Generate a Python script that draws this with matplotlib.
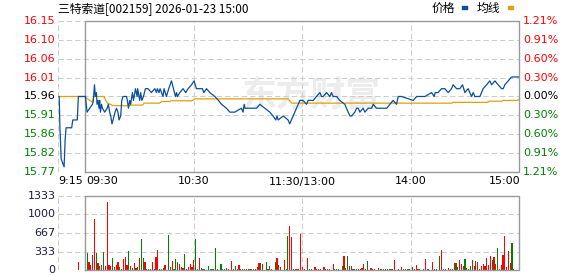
import matplotlib
matplotlib.use('Agg')
import matplotlib.pyplot as plt
from matplotlib.patches import Rectangle

plt.rcParams['font.family'] = ['DejaVu Sans', 'Noto Sans CJK SC']

W, H = 578, 276

title = '三特索道[002159] 2026-01-23 15:00'
prev_close = 15.96
pct_max = 1.21

price_labels = ['16.15', '16.10', '16.06', '16.01', '15.96', '15.91', '15.86', '15.82', '15.77']
pct_labels = ['1.21%', '0.91%', '0.60%', '0.30%', '0.00%', '0.30%', '0.60%', '0.91%', '1.21%']
vol_ticks = [1333, 1000, 667, 333, 0]
time_labels = ['9:15', '09:30', '10:30', '11:30/13:00', '14:00', '15:00']
time_pos = [0, 15, 75, 135, 195, 255]   # minutes from 9:15 (pre-market 15 min)

# call auction, minutes from 9:15
pre_t = [0.5, 0.9, 1.6, 2.4, 3.2, 3.8, 4.3, 7.4, 8.0, 10.5, 10.8, 11.1, 15]
pre_p = [15.96, 15.88, 15.80, 15.79, 15.78, 15.85, 15.88, 15.88, 15.90, 15.90, 15.93, 15.96, 15.96]

# trading, minutes from 9:30
trade_t = [0, 0.9, 2.4, 3.9, 4.4, 5.0, 5.5, 6.1, 6.4, 7.0, 7.5, 7.9, 8.3, 8.9, 9.4, 10.7,
           12.0, 12.7, 13.4, 14.0, 14.7, 15.3, 16.4, 17.2, 18.0, 18.6, 19.5, 20.1, 20.8,
           22.7, 23.2, 23.8, 24.5, 25.0, 26.0, 26.6, 27.7, 28.6, 28.9, 30.0, 30.6, 31.2,
           32.1, 33.2, 34.6, 36.5, 38.4, 39.3, 39.8, 40.7, 41.3, 42.9, 43.5, 44.8, 46.1,
           47.6, 48.7, 49.8, 50.4, 50.9, 52.2, 54.0, 55.5, 56.8, 58.7, 60.1, 61.4, 63.3,
           64.7, 65.5, 67.0, 68.8, 71.6, 73.6, 75.3, 78.0, 79.9, 82.6, 86.3, 87.2, 87.8,
           88.3, 90.9, 94.6, 96.5, 99.2, 102.0, 103.8, 105.3, 106.0, 106.6, 109.4, 112.1,
           113.0, 114.9, 115.8, 116.8, 117.7, 118.6, 120.4, 122.3, 123.2, 126.0, 127.8,
           129.7, 130.6, 131.5, 133.4, 135.2, 136.1, 137.0, 138.9, 140.7, 143.5, 144.4,
           146.3, 147.2, 149.0, 150.0, 150.9, 151.8, 153.6, 154.6, 156.4, 158.3, 159.2,
           161.0, 162.9, 166.7, 168.4, 170.2, 172.1, 173.0, 174.9, 181.3, 183.2, 186.0,
           187.8, 191.5, 192.9, 193.5, 195.1, 197.0, 198.8, 200.7, 202.5, 203.4, 205.3,
           207.1, 208.6, 209.9, 211.7, 213.6, 214.5, 215.4, 218.2, 219.1, 220.0, 221.9,
           223.7, 224.7, 226.5, 228.3, 230.2, 231.1, 232.0, 233.9, 235.7, 240]
trade_p = [15.96, 15.92, 15.93, 15.94, 15.95, 15.99, 15.96, 15.97, 15.94, 15.95, 15.93, 15.95,
           15.92, 15.94, 15.93, 15.92, 15.93, 15.94, 15.92, 15.91, 15.89, 15.90, 15.92, 15.93,
           15.92, 15.90, 15.91, 15.95, 15.96, 15.96, 15.95, 15.93, 15.95, 15.94, 15.97, 15.95,
           15.98, 15.96, 15.98, 15.95, 15.97, 15.95, 15.96, 15.98, 15.98, 15.97, 15.98, 15.97,
           15.98, 15.97, 15.98, 15.96, 15.98, 15.96, 15.98, 16.00, 15.98, 15.96, 15.97, 15.96,
           15.97, 15.98, 15.97, 15.98, 15.99, 16.00, 15.98, 15.98, 15.98, 15.97, 15.98, 15.97,
           15.96, 15.95, 15.94, 15.93, 15.92, 15.92, 15.93, 15.92, 15.94, 15.93, 15.93, 15.93,
           15.94, 15.93, 15.92, 15.91, 15.90, 15.91, 15.90, 15.91, 15.90, 15.89, 15.91, 15.92,
           15.93, 15.94, 15.95, 15.95, 15.94, 15.95, 15.95, 15.96, 15.97, 15.96, 15.96, 15.97,
           15.96, 15.97, 15.96, 15.96, 15.95, 15.94, 15.93, 15.91, 15.91, 15.92, 15.93, 15.93,
           15.92, 15.93, 15.92, 15.93, 15.93, 15.94, 15.93, 15.93, 15.93, 15.94, 15.95, 15.94,
           15.96, 15.96, 15.95, 15.96, 15.96, 15.96, 15.97, 15.96, 15.97, 15.97, 15.98, 15.98,
           15.97, 15.98, 15.99, 15.98, 15.98, 15.99, 15.97, 15.98, 15.96, 15.97, 15.96, 15.96,
           15.97, 15.98, 15.99, 16.00, 15.99, 16.00, 15.99, 15.98, 15.98, 15.99, 16.00, 16.01,
           16.01]

# average price line
avg_pre_t = [0, 15]
avg_pre_p = [15.96, 15.96]
avg_t = [0, 1.8, 4.0, 4.4, 10.3, 11.2, 12.3, 15.1, 24.0, 25.1, 31.7, 32.3, 41.1, 42.2, 46.7,
         47.2, 58.8, 60.5, 112.0, 114.2, 202.7, 203.3, 222.6, 223.2, 230.4, 231.0, 238.7, 240]
avg_p = [15.958, 15.952, 15.945, 15.960, 15.960, 15.950, 15.943, 15.937, 15.936, 15.938,
         15.938, 15.943, 15.943, 15.947, 15.947, 15.949, 15.949, 15.954, 15.954, 15.943,
         15.943, 15.945, 15.945, 15.948, 15.948, 15.950, 15.950, 15.953]

# volume (lots); auction bar at 9:26, then minutes from 9:30; 'r' up, 'g' down
pre_vol_t = [11]
pre_vol = [150]
vol_t = [1, 2, 3, 4, 5, 6, 7, 8, 9, 10, 11, 12, 13, 14, 15, 16, 17, 18, 19, 20, 21, 22, 23,
         24, 25, 26, 27, 28, 29, 30, 31, 32, 33, 34, 35, 36, 37, 38, 39, 40, 41, 42, 43, 44,
         46, 47, 48, 49, 50, 51, 52, 53, 54, 55, 56, 57, 58, 59, 60, 61, 62, 63, 64, 65, 66,
         68, 69, 70, 71, 72, 73, 75, 76, 77, 78, 79, 81, 82, 83, 84, 85, 86, 87, 88, 89, 90,
         91, 92, 93, 94, 95, 96, 97, 98, 100, 101, 102, 103, 105, 106, 107, 108, 110, 111, 112,
         113, 114, 115, 116, 117, 118, 119, 120, 121, 123, 124, 125, 127, 128, 129, 130, 132,
         133, 134, 135, 137, 138, 139, 140, 142, 143, 144, 145, 146, 147, 148, 149, 150, 151,
         152, 153, 154, 155, 156, 158, 159, 160, 162, 163, 164, 165, 166, 167, 168, 169, 170,
         171, 173, 175, 176, 177, 178, 179, 181, 182, 183, 184, 185, 187, 188, 189, 190, 192,
         193, 194, 196, 197, 198, 199, 201, 202, 203, 204, 205, 206, 207, 208, 209, 210, 211,
         212, 213, 214, 215, 216, 217, 218, 219, 220, 221, 222, 223, 224, 225, 226, 227, 228,
         229, 230, 231, 232, 233, 234, 235, 236, 237, 240]
vol = [312, 150, 90, 270, 918, 312, 120, 72, 90, 324, 72, 1218, 90, 72, 210, 60, 90, 150, 48,
       24, 198, 228, 90, 342, 72, 36, 132, 36, 60, 210, 558, 210, 150, 18, 18, 18, 150, 18,
       228, 360, 18, 18, 30, 90, 630, 48, 168, 18, 198, 150, 108, 60, 36, 288, 18, 48, 108, 60,
       180, 558, 18, 216, 36, 18, 18, 72, 18, 18, 18, 390, 18, 108, 18, 18, 36, 18, 168, 18,
       72, 18, 84, 18, 18, 18, 18, 18, 18, 18, 18, 18, 48, 120, 120, 108, 150, 18, 72, 24, 150,
       210, 90, 48, 180, 24, 612,
       792, 594, 18, 18, 18, 18, 648, 54, 18, 216, 18, 18, 54, 18, 18, 18, 54, 18, 18, 18, 108,
       18, 18, 18, 72, 252, 36, 252, 72, 72, 18, 18, 18, 18, 18, 36, 108, 18, 162, 36, 18, 18,
       36, 18, 18, 18, 18, 18, 18, 18, 18, 180, 18, 54, 18, 18, 18, 18, 54, 18, 90, 18, 18, 18,
       198, 18, 18, 144, 18, 18, 252, 360, 18, 18, 36, 18, 18, 126, 126, 54, 180, 108, 72, 198,
       36, 18, 72, 180, 72, 162, 144, 18, 72, 108, 72, 216, 90, 252, 180, 234, 108, 396, 18, 90,
       270, 612, 54, 342, 126, 486, 18, 702]
vol_c = ''.join([
    'grrrrgrgrg', 'rrrrgrrrgg', 'rrrgrgrgrr', 'ggrggrrgrr', 'gggr',
    'grrgggrrrg', 'rrrrrggrggg', 'gggggr', 'gggrg', 'rrgrrggrgrgrrgrrgr',
    'grgr', 'grrg', 'rgg',
    'rrrrrrrrg', 'rgg', 'rrrg', 'rrgr', 'rggg', 'grrggrgrgrgrrrg', 'rrg',
    'rgrgrgrgrr', 'r', 'rgggg', 'rgrrr', 'grrr', 'rrr', 'grrg',
    'rrrrggrrrg', 'rggrrgrrrr', 'rrrrgrrggr', 'rrrrrgg', 'r'])
assert len(vol_t) == len(vol) == len(vol_c)

RED, GREEN, BLACK = '#ff0000', '#008000', '#000000'
BLUE, ORANGE = '#0a4f9e', '#e0a10a'
GRID, BOX = '#cccccc', '#999999'

fig = plt.figure(figsize=(W / 100, H / 100), dpi=100)
x0, x1 = 58.3, 519.3
ax = fig.add_axes([x0 / W, 1 - 172 / H, (x1 - x0) / W, (172 - 21) / H])
axv = fig.add_axes([x0 / W, 1 - 270 / H, (x1 - x0) / W, (270 - 196) / H])

span = prev_close * pct_max / 100
price_pos = [prev_close + span * (4 - k) / 4 for k in range(9)]

for a in (ax, axv):
    a.set_xlim(0, 255)
    a.axis('off')
ax.set_ylim(prev_close - span, prev_close + span)
axv.set_ylim(0, 1333)

gkw = dict(color=GRID, lw=0.75, dashes=(5, 3), zorder=1)
for yv in price_pos:
    ax.axhline(yv, **gkw)
for yv in vol_ticks:
    axv.axhline(yv, **gkw)
for a in (ax, axv):
    for xv in [0, 75, 135, 195]:
        a.axvline(xv, **gkw)
    lo, hi = a.get_ylim()
    a.plot([15, 255, 255, 15, 15], [lo, lo, hi, hi, lo], color=BOX, lw=1.0, zorder=4,
           clip_on=False)

# watermark
ax.text(140, 15.963, '东方财富', fontsize=25, color='#ececec', fontweight='bold',
        fontstyle='italic', ha='center', va='center', zorder=0,
        family=['Noto Sans CJK SC', 'DejaVu Sans'])

# price lines
ax.plot(avg_pre_t, avg_pre_p, color=ORANGE, lw=0.9, zorder=3)
ax.plot([15 + t for t in avg_t], avg_p, color=ORANGE, lw=0.9, zorder=3)
ax.plot(pre_t, pre_p, color=BLUE, lw=0.9, zorder=5)
ax.plot([15 + t for t in trade_t], trade_p, color=BLUE, lw=0.9, zorder=5)

# volume bars
axv.bar(pre_vol_t, pre_vol, width=0.65, color=RED, lw=0, zorder=3)
axv.bar([15 + t for t in vol_t], vol, width=0.65,
        color=[RED if c == 'r' else GREEN for c in vol_c], lw=0, zorder=3)

# axis labels
lx = -2.8 / (x1 - x0)
rx = 1 + 3.7 / (x1 - x0)
for k, (yv, lab, plab) in enumerate(zip(price_pos, price_labels, pct_labels)):
    col = RED if k < 4 else (BLACK if k == 4 else GREEN)
    ax.text(lx, yv, lab, transform=ax.get_yaxis_transform(), ha='right', va='center',
            fontsize=8, color=col)
    ax.text(rx, yv, plab, transform=ax.get_yaxis_transform(), ha='left', va='center',
            fontsize=8, color=col)
for yv in vol_ticks:
    axv.text(lx, yv, str(yv), transform=axv.get_yaxis_transform(), ha='right', va='center',
             fontsize=8, color='#1c1c44')

ty = -(181.5 - 172) / (172 - 21)
for pos, lab in zip(time_pos, time_labels):
    if pos == 0:
        ha, dx = 'left', 0
    elif pos == 15:
        ha, dx = 'left', 0.7
    elif pos == 255:
        ha, dx = 'right', 0.5
    else:
        ha, dx = 'center', 0
    ax.text(pos + dx, ty, lab, transform=ax.get_xaxis_transform(), ha=ha, va='center',
            fontsize=8, color=BLACK)

# title and legend
cjk = ['Noto Sans CJK SC', 'DejaVu Sans']
fig.text(58.5 / W, 1 - 8.7 / H, title, ha='left', va='center', fontsize=8.5, family=cjk)
fig.text(431.7 / W, 1 - 8.7 / H, '价格', ha='left', va='center', fontsize=8.5, family=cjk)
fig.text(476.7 / W, 1 - 8.7 / H, '均线', ha='left', va='center', fontsize=8.5, family=cjk)
fig.add_artist(Rectangle((462.3 / W, 1 - 8.5 / H), 5 / W, 2.5 / H, color=BLUE,
                         transform=fig.transFigure))
fig.add_artist(Rectangle((507.7 / W, 1 - 8.5 / H), 5 / W, 2.5 / H, color=ORANGE,
                         transform=fig.transFigure))

fig.savefig('out.png', dpi=100)
